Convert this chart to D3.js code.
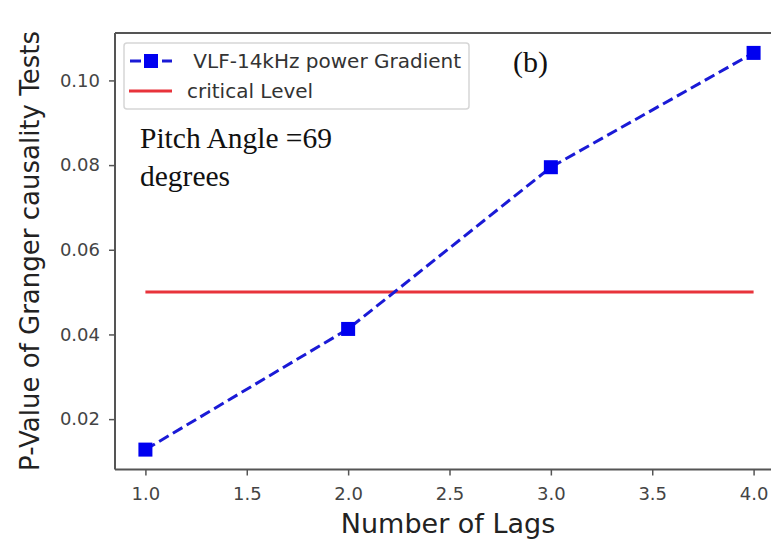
<!DOCTYPE html>
<html><head><meta charset="utf-8">
<script src="https://cdn.jsdelivr.net/npm/d3@7"></script>
<style>body{margin:0;background:#fff}svg{display:block}</style>
</head><body><svg id="c" width="771" height="540"></svg>
<script>
const lags = [1, 2, 3, 4];
const pValues = [0.0128, 0.0413, 0.0795, 0.1065];
const criticalLevel = 0.05;
const xTicks = [1.0, 1.5, 2.0, 2.5, 3.0, 3.5, 4.0];
const yTicks = [0.02, 0.04, 0.06, 0.08, 0.10];
const seriesName = " VLF-14kHz power Gradient";
const criticalName = "critical Level";

const svg = d3.select("#c");
const L = 115, T = 33, B = 469.5;
const x = d3.scaleLinear().domain([0.85, 4.15]).range([L, L + 669]);
const y = d3.scaleLinear().domain([0.0081, 0.1112]).range([B, T]);
const axisCol = "#444";

// spines
svg.append("line").attr("x1", L).attr("x2", 771).attr("y1", T).attr("y2", T).attr("stroke", "#555").attr("stroke-width", 2);
svg.append("line").attr("x1", L).attr("x2", 771).attr("y1", B).attr("y2", B).attr("stroke", "#555").attr("stroke-width", 2);
svg.append("line").attr("x1", L).attr("x2", L).attr("y1", T).attr("y2", B).attr("stroke", "#555").attr("stroke-width", 2);

const xa = svg.append("g").attr("transform", `translate(0,${B})`)
  .call(d3.axisBottom(x).tickValues(xTicks).tickFormat(d3.format(".1f")).tickSize(6).tickSizeOuter(0));
const ya = svg.append("g").attr("transform", `translate(${L},0)`)
  .call(d3.axisLeft(y).tickValues(yTicks).tickFormat(d3.format(".2f")).tickSize(6).tickSizeOuter(0));
[xa, ya].forEach(a => {
  a.select(".domain").remove();
  a.selectAll(".tick line").attr("stroke", "#555").attr("stroke-width", 1.5);
  a.selectAll(".tick text").attr("fill", axisCol).style("font-family", "DejaVu Sans").style("font-size", "18px");
});
xa.selectAll(".tick text").attr("y", 12).attr("dy", "1.0em");
ya.selectAll(".tick text").attr("x", -15);

// critical line
svg.append("line")
  .attr("x1", x(lags[0])).attr("x2", x(lags[lags.length - 1]))
  .attr("y1", y(criticalLevel)).attr("y2", y(criticalLevel))
  .attr("stroke", "#e8333b").attr("stroke-width", 3);

// series
const line = d3.line().x((d, i) => x(lags[i])).y(d => y(d));
svg.append("path").datum(pValues).attr("d", line)
  .attr("fill", "none").attr("stroke", "#1a1ad6").attr("stroke-width", 3).attr("stroke-dasharray", "11,5");
const ms = 14;
svg.selectAll("rect.pt").data(pValues).enter().append("rect").attr("class", "pt")
  .attr("x", (d, i) => x(lags[i]) - ms / 2).attr("y", d => y(d) - ms / 2)
  .attr("width", ms).attr("height", ms).attr("fill", "#0000f0");

// legend
const lg = svg.append("g");
lg.append("rect").attr("x", 124).attr("y", 43).attr("width", 345).attr("height", 66).attr("rx", 3)
  .attr("fill", "#fff").attr("fill-opacity", 0.9).attr("stroke", "#d6d6d6").attr("stroke-width", 1.5);
lg.append("line").attr("x1", 130).attr("x2", 172).attr("y1", 61).attr("y2", 61)
  .attr("stroke", "#1a1ad6").attr("stroke-width", 3).attr("stroke-dasharray", "11,5");
lg.append("rect").attr("x", 151 - ms / 2).attr("y", 61 - ms / 2).attr("width", ms).attr("height", ms).attr("fill", "#0000f0");
lg.append("text").attr("x", 187).attr("y", 68).text(seriesName)
  .style("font-family", "DejaVu Sans").style("font-size", "20px").attr("fill", "#333").attr("xml:space", "preserve");
lg.append("line").attr("x1", 129).attr("x2", 172).attr("y1", 91).attr("y2", 91)
  .attr("stroke", "#e8333b").attr("stroke-width", 3);
lg.append("text").attr("x", 187).attr("y", 98).text(criticalName)
  .style("font-family", "DejaVu Sans").style("font-size", "20px").attr("fill", "#333");

// annotations
const serif = "Liberation Serif";
svg.append("text").attr("x", 140).attr("y", 148).text("Pitch Angle =69")
  .style("font-family", serif).style("font-size", "29.5px").attr("fill", "#111");
svg.append("text").attr("x", 140).attr("y", 186).text("degrees")
  .style("font-family", serif).style("font-size", "29.5px").attr("fill", "#111");
svg.append("text").attr("x", 513).attr("y", 72).text("(b)")
  .style("font-family", serif).style("font-size", "30px").attr("fill", "#111");

// axis labels
svg.append("text").attr("x", 448).attr("y", 533).attr("text-anchor", "middle").text("Number of Lags")
  .style("font-family", "DejaVu Sans").style("font-size", "27px").attr("fill", "#222");
svg.append("text").attr("transform", "translate(39,251) rotate(-90)").attr("text-anchor", "middle")
  .text("P-Value of Granger causality Tests")
  .style("font-family", "DejaVu Sans").style("font-size", "26px").attr("fill", "#222");
</script></body></html>
